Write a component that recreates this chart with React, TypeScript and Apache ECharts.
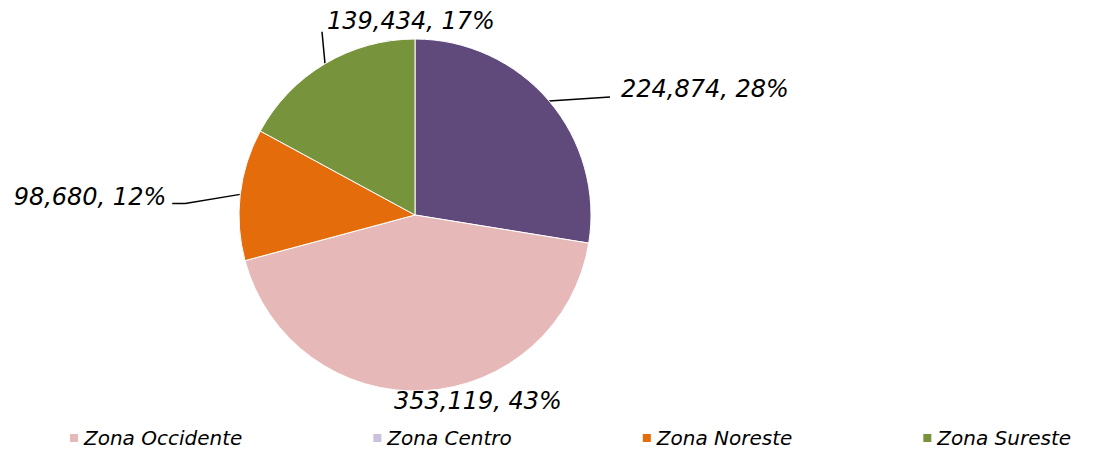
import React, { useEffect, useRef } from "react";
import * as echarts from "echarts";

const categories = ["Zona Centro", "Zona Occidente", "Zona Noreste", "Zona Sureste"];
const values = [224874, 353119, 98680, 139434];
const sliceColors = ["#604a7b", "#e6b9b8", "#e46c0a", "#77933c"];
const legendOrder = ["Zona Occidente", "Zona Centro", "Zona Noreste", "Zona Sureste"];
const legendColors = ["#e6b9b8", "#ccc1da", "#e46c0a", "#77933c"];

const FONT = "'DejaVu Sans', sans-serif";

export default function App() {
  const ref = useRef<HTMLDivElement>(null);
  useEffect(() => {
    document.body.style.margin = "0";
    if (!ref.current) return;
    const chart = echarts.init(ref.current, null, { renderer: "svg" });
    const total = values.reduce((a, b) => a + b, 0);
    const layouts: any = {
      0: { line: [[61, -4]], dx: 72, dy: -12, align: "left" },
      1: { line: null, dx: 54, dy: 10, align: "center" },
      2: { line: [[-55, 9], [-68, 9]], dx: -74, dy: 3, align: "right" },
      3: { line: [[-3, -32]], dx: 2, dy: -43, align: "left" },
    };
    chart.setOption({
      animation: false,
      legend: {
        top: 428,
        left: 68,
        padding: 0,
        itemWidth: 10,
        itemHeight: 10,
        itemGap: 129,
        icon: "rect",
        textStyle: { fontFamily: FONT, fontStyle: "italic", fontSize: 20, color: "#000" },
        data: legendOrder.map((n, i) => ({ name: n, itemStyle: { color: legendColors[i] } })),
      },
      series: [
        {
          type: "pie",
          center: [415, 215],
          radius: 176,
          startAngle: 90,
          clockwise: true,
          data: categories.map((c, i) => ({
            name: c,
            value: values[i],
            itemStyle: { color: sliceColors[i] },
          })),
          itemStyle: { borderColor: "#fff", borderWidth: 1 },
          label: {
            show: true,
            position: "outside",
            formatter: (p: any) =>
              `${p.value.toLocaleString("en-US")}, ${Math.round((p.value / total) * 100)}%`,
            fontFamily: FONT,
            fontStyle: "italic",
            fontSize: 24,
            color: "#000",
          },
          labelLine: { show: true, lineStyle: { color: "#000", width: 1.5 } },
          labelLayout: (p: any) => {
            const L = layouts[p.dataIndex];
            const p0 = p.labelLinePoints ? p.labelLinePoints[0] : [0, 0];
            const res: any = {
              x: p0[0] + L.dx,
              y: p0[1] + L.dy,
              align: L.align,
              verticalAlign: "middle",
            };
            if (L.line) {
              res.labelLinePoints = [p0, ...L.line.map((d: number[]) => [p0[0] + d[0], p0[1] + d[1]])];
            } else {
              res.labelLinePoints = [p0, p0];
            }
            return res;
          },
        },
      ],
    });
    return () => chart.dispose();
  }, []);
  return <div ref={ref} style={{ width: 1106, height: 452 }} />;
}
